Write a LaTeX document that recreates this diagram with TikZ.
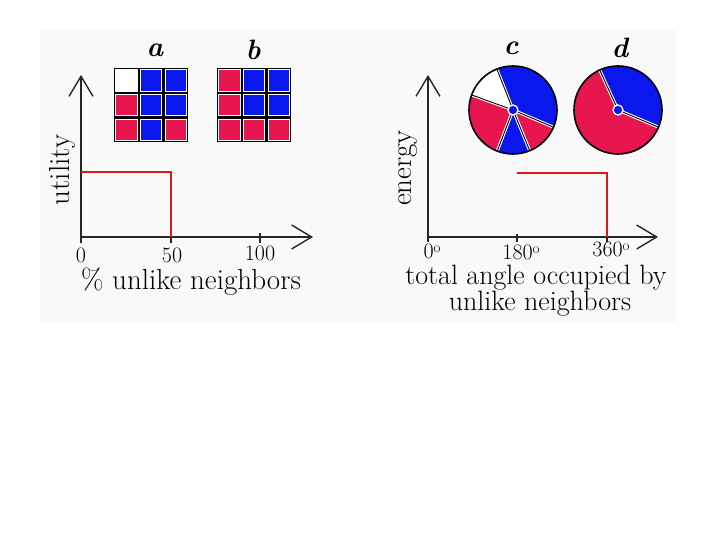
\documentclass[tikz,border=0pt]{standalone}
\usetikzlibrary{arrows.meta,positioning}
\definecolor{pinkred}{HTML}{E8164F}
\definecolor{deepblue}{HTML}{0A18EE}
\definecolor{paper}{HTML}{F9F9F9}
\definecolor{stepred}{HTML}{E01818}
\newcommand{\degmark}{\raisebox{6pt}{\fontsize{15}{15}\selectfont o}}
\tikzset{
  axis/.style = {
    line width=2.8pt, black!85,
    -{Straight Barb[length=20pt,width=24pt,line width=1.4pt]}
  },
  tickmark/.style = {
    line width=1.6pt, black!85
  },
  cutoff/.style = {
    line width=1.3pt, stepred
  },
  cell/.style = {
    draw=white, line width=1pt, minimum size=21.5pt, inner sep=0pt
  },
  tick/.style = {
    font=\fontsize{22}{24}\selectfont, anchor=base, inner sep=0.5pt
  },
  axlabel/.style = {
    font=\fontsize{29}{27}\selectfont, align=center, anchor=base, inner sep=0.5pt
  },
  title/.style = {
    font=\fontsize{28}{30}\selectfont\bfseries\itshape
  },
  spoke/.style = {
    line width=0.9pt
  }
}

\begin{document}
\begin{tikzpicture}[x=1pt,y=1pt]
    \useasboundingbox (0,0) rectangle (720,540);
    \fill[paper] (40,218) rectangle (676,510);

    % left plot: utility
    \coordinate (lorig)  at (81,303);
    \coordinate (ltop)   at (81,465);
    \coordinate (lend)   at (313,303);
    \coordinate (lstart) at (81,368);
    \coordinate (lknee)  at (171,368);
    \coordinate (ldrop)  at (171,303);
    \draw[axis] (lorig) -- (ltop);
    \draw[axis] (lorig) -- (lend);
    \foreach \x in {0,90,179}
        \draw[tickmark] (lorig) ++(\x,4) -- ++(0,-10);
    \draw[cutoff] (lstart) -- (lknee) -- (ldrop);
    \node[tick] (lzero)    at (81,277)  {0};
    \node[tick] (lfifty)   at (172,277) {50};
    \node[tick] (lhundred) at (260,279) {100};
    \node[axlabel] (lxlab) at (191,250) {\% unlike neighbors};
    \node[axlabel, rotate=90, anchor=center] (lylab) at (62,370) {utility};

    % neighborhoods a and b
    \node[title] (tita) at (155,490) {a};
    \node[title] (titb) at (253,490) {b};
    \fill (114,397.6) rectangle (188.4,472);
    \fill (217,397.6) rectangle (291.4,472);
    \foreach \c [count=\i from 0] in {white,deepblue,deepblue,pinkred,deepblue,deepblue,pinkred,deepblue,pinkred}
        \node[cell, fill=\c] (a\i) at ({114+24.8*(mod(\i,3)+0.5)},{472-24.8*(floor(\i/3)+0.5)}) {};
    \foreach \c [count=\i from 0] in {pinkred,deepblue,deepblue,pinkred,deepblue,deepblue,pinkred,pinkred,pinkred}
        \node[cell, fill=\c] (b\i) at ({217+24.8*(mod(\i,3)+0.5)},{472-24.8*(floor(\i/3)+0.5)}) {};

    % right plot: energy
    \coordinate (rorig)  at (428,303);
    \coordinate (rtop)   at (428,465);
    \coordinate (rend)   at (658,303);
    \coordinate (rstart) at (517,367);
    \coordinate (rknee)  at (607,367);
    \coordinate (rdrop)  at (607,303);
    \draw[axis] (rorig) -- (rtop);
    \draw[axis] (rorig) -- (rend);
    \foreach \x in {0,89,179}
        \draw[tickmark] (rorig) ++(\x,3) -- ++(0,-8);
    \draw[cutoff] (rstart) -- (rknee) -- (rdrop);
    \node[tick] (rzero)  at (432,281) {0\degmark};
    \node[tick] (rhalf)  at (521,280) {180\degmark};
    \node[tick] (rfull)  at (611,283) {360\degmark};
    \node[axlabel, font=\fontsize{28}{27}\selectfont] (rxlab) at (536,255) {total angle occupied by};
    \node[axlabel, font=\fontsize{28}{27}\selectfont] (rxlab2) at (540,229) {unlike neighbors};
    \node[axlabel, rotate=90, anchor=center] (rylab) at (408,372) {energy};

    % wheels c and d
    \node[title] (titc) at (511,492) {c};
    \node[title] (titd) at (620,492) {d};
    \coordinate (hubc) at (513,430);
    \coordinate (hubd) at (618,430);
    \foreach \s/\e/\col in {-23/111.5/deepblue, -67.7/-23/pinkred, -111/-67.7/deepblue, -200/-111/pinkred, 111.5/160/white}
        \fill[\col] (hubc) -- ++(\s:44) arc[start angle=\s, end angle=\e, radius=44] -- cycle;
    \foreach \s/\e/\col in {-23/114.6/deepblue, 114.6/337/pinkred}
        \fill[\col] (hubd) -- ++(\s:44) arc[start angle=\s, end angle=\e, radius=44] -- cycle;
    \foreach \h/\a in {hubc/111.5, hubc/160, hubc/-111, hubc/-67.7, hubc/-23, hubd/114.6, hubd/-23} {
        \draw[white, line width=3pt] (\h) -- ++(\a:44);
        \draw[spoke] (\h) -- ++(\a:44);
    }
    \draw[line width=1.6pt] (hubc) circle[radius=44];
    \draw[line width=1.6pt] (hubd) circle[radius=44];
    \filldraw[fill=deepblue, draw=white, line width=1.3pt] (hubc) circle[radius=5];
    \filldraw[fill=deepblue, draw=white, line width=1.3pt] (hubd) circle[radius=5];
\end{tikzpicture}
\end{document}
